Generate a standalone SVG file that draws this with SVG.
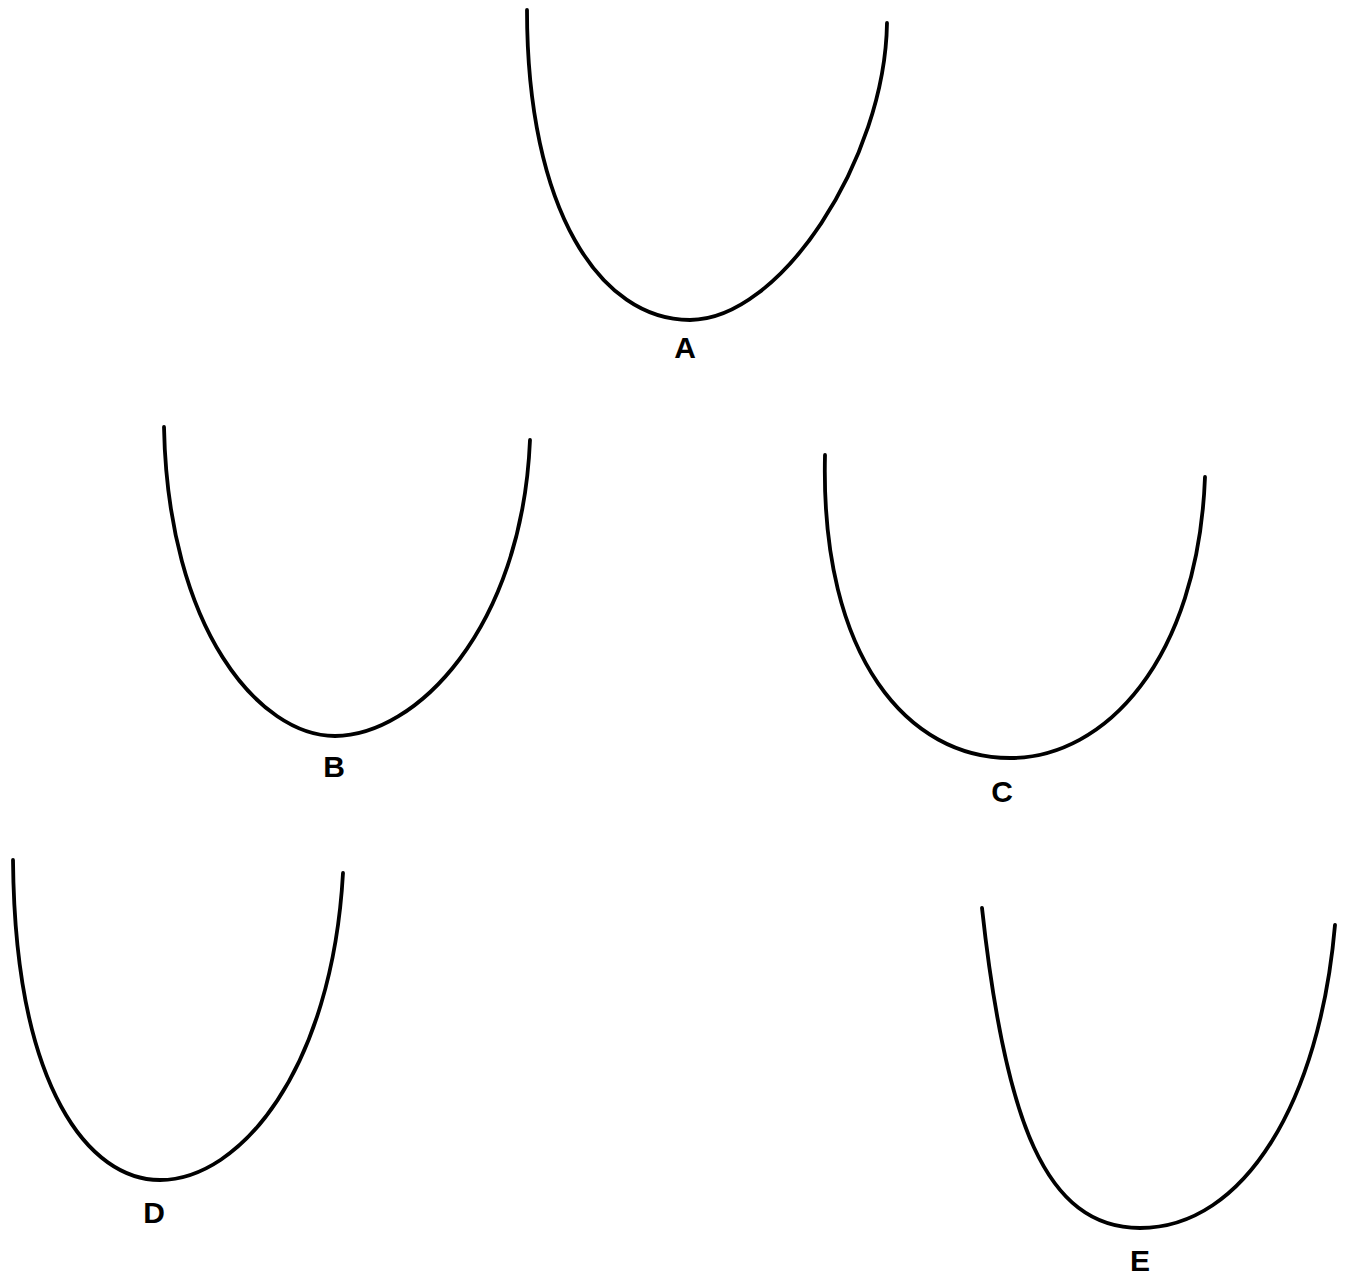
<svg xmlns="http://www.w3.org/2000/svg" width="1348" height="1276" viewBox="0 0 1348 1276">
<style>
.curve{fill:none;stroke:#000;stroke-width:3.8;stroke-linecap:round;stroke-linejoin:round}
.lbl{font-family:"Liberation Sans",Arial,sans-serif;font-size:30px;font-weight:bold;fill:#000;text-anchor:middle}
</style>
<rect width="1348" height="1276" fill="#fff"/>
<g id="A">
<path class="curve" d="M527,10 C527,210 600,320 690,320 C780,320 885,160 887,23"/>
<text class="lbl" x="685" y="358">A</text>
</g>
<g id="B">
<path class="curve" d="M164,427 C168,630 260,736 335,736 C415,736 522,630 530,440"/>
<text class="lbl" x="334" y="777">B</text>
</g>
<g id="C">
<path class="curve" d="M825,455 C820,660 910,758 1010,758 C1105,758 1198,660 1205,477"/>
<text class="lbl" x="1002" y="802">C</text>
</g>
<g id="D">
<path class="curve" d="M13,860 C15,1090 90,1180 160,1180 C240,1180 332,1070 343,873"/>
<text class="lbl" x="154" y="1223">D</text>
</g>
<g id="E">
<path class="curve" d="M982,908 C1005,1120 1045,1228 1140,1228 C1245,1228 1320,1100 1335,925"/>
<text class="lbl" x="1140" y="1271">E</text>
</g>
</svg>
